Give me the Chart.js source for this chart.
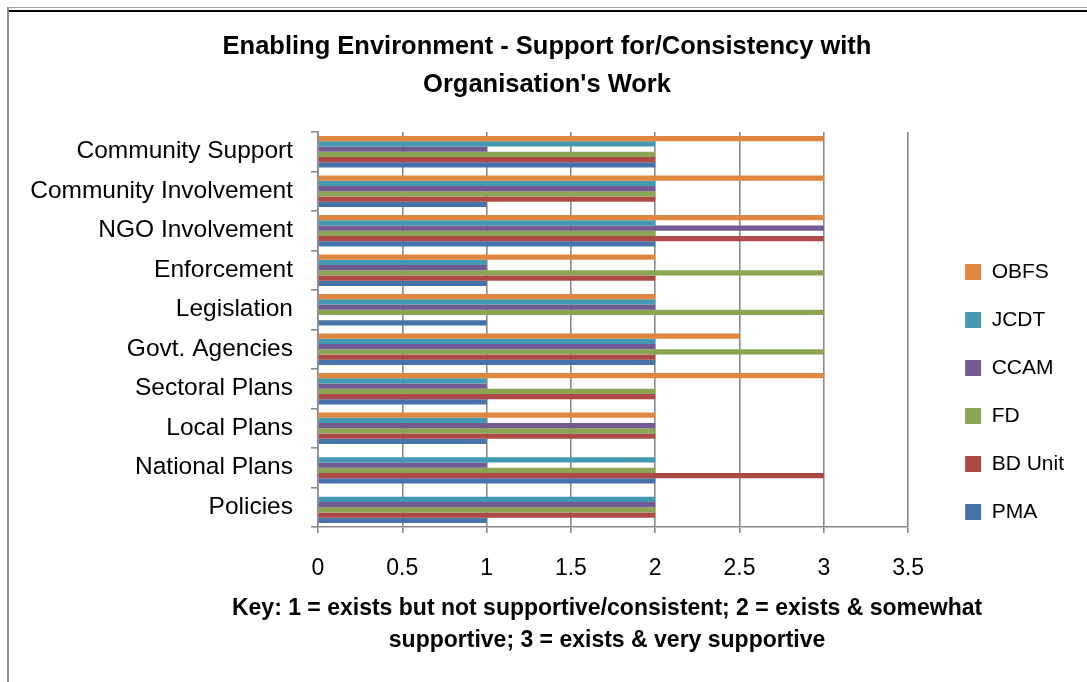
<!DOCTYPE html>
<html>
<head>
<meta charset="utf-8">
<script src="https://cdn.jsdelivr.net/npm/chart.js@4"></script>
<style>
  html, body { margin: 0; padding: 0; background: #fff; }
  #wrap { position: relative; width: 1087px; height: 682px; overflow: hidden; }
  #chart { position: absolute; left: 0; top: 0; }
  .frame { position: absolute; pointer-events: none; }
  #lineGrey { left: 7px; top: 7px; right: 0; height: 1px; background: #a6a6a6; }
  #lineBlack { left: 8px; top: 10px; right: 0; height: 2px; background: #000; }
  #lineLeft { left: 7px; top: 7px; bottom: 0; width: 2px; background: #8c8c8c; }
</style>
</head>
<body>
<div id="wrap">
  <canvas id="chart" width="1087" height="682"></canvas>
  <div class="frame" id="lineGrey"></div>
  <div class="frame" id="lineBlack"></div>
  <div class="frame" id="lineLeft"></div>
</div>
<script>
// categories listed top to bottom
const categories = [
  'Community Support', 'Community Involvement', 'NGO Involvement', 'Enforcement',
  'Legislation', 'Govt. Agencies', 'Sectoral Plans', 'Local Plans',
  'National Plans', 'Policies'
];

// scores per organisation (null = no bar)
const obfs = [3, 3, 3, 2, 2, 2.5, 3, 2, null, null];
const jcdt = [2, 2, 2, 1, 2, 2, 1, 1, 2, 2];
const ccam = [1, 2, 3, 1, 2, 2, 1, 2, 1, 2];
const fd = [2, 2, 2, 3, 3, 3, 2, 2, 2, 2];
const bdUnit = [2, 2, 3, 2, null, 2, 2, 2, 3, 2];
const pma = [2, 1, 2, 1, 1, 2, 1, 1, 2, 1];

const xTicks = [0, 0.5, 1, 1.5, 2, 2.5, 3, 3.5];

const titleLines = ['Enabling Environment - Support for/Consistency with', "Organisation's Work"];
const keyLines = [
  'Key: 1 = exists but not supportive/consistent; 2 = exists & somewhat',
  'supportive; 3 = exists & very supportive'
];

const FONT = '"Liberation Sans", Arial, sans-serif';
const GRID = '#8a8a8a';

const series = [
  { label: 'OBFS', data: obfs, color: '#df8741' },
  { label: 'JCDT', data: jcdt, color: '#4399b1' },
  { label: 'CCAM', data: ccam, color: '#745a92' },
  { label: 'FD', data: fd, color: '#8ba552' },
  { label: 'BD Unit', data: bdUnit, color: '#ad4a47' },
  { label: 'PMA', data: pma, color: '#4673a9' }
];

// the key is wider than the plot, so the axis title can't hold it;
// draw it centred under the plot instead
const keyText = {
  id: 'keyText',
  afterDraw(chart) {
    const { ctx, chartArea } = chart;
    const cx = (chartArea.left + chartArea.right) / 2 - 6;
    ctx.save();
    ctx.fillStyle = '#000';
    ctx.font = 'bold 23px ' + FONT;
    ctx.textAlign = 'center';
    ctx.textBaseline = 'middle';
    keyLines.forEach((line, i) => {
      ctx.fillText(line, cx, chartArea.bottom + 82 + i * 32);
    });
    ctx.restore();
  }
};

new Chart(document.getElementById('chart').getContext('2d'), {
  type: 'bar',
  data: {
    labels: categories,
    datasets: series.map(s => ({
      label: s.label,
      data: s.data,
      backgroundColor: s.color,
      borderWidth: 0,
      categoryPercentage: 0.8,
      barPercentage: 1
    }))
  },
  plugins: [keyText],
  options: {
    indexAxis: 'y',
    responsive: false,
    animation: false,
    layout: { padding: { left: 20, right: 13, top: 0, bottom: 0 } },
    plugins: {
      title: {
        display: true,
        text: titleLines,
        color: '#000',
        font: { family: FONT, size: 25.5, weight: 'bold', lineHeight: 1.49 },
        padding: { top: 28, bottom: 28 }
      },
      legend: {
        position: 'right',
        // blank title pushes the item column down a little
        title: { display: true, text: ' ', font: { size: 1 }, padding: { top: 101, bottom: 0 } },
        labels: {
          color: '#000',
          font: { family: FONT, size: 21 },
          boxWidth: 16,
          boxHeight: 16,
          padding: 27
        }
      },
      tooltip: { enabled: false }
    },
    scales: {
      x: {
        min: 0,
        max: 3.5,
        afterBuildTicks: axis => { axis.ticks = xTicks.map(v => ({ value: v })); },
        afterFit: axis => { axis.height = 155; },
        grid: { color: GRID, lineWidth: 1.6, tickLength: 6 },
        border: { color: GRID, width: 1.6 },
        ticks: {
          color: '#000',
          font: { family: FONT, size: 23 },
          padding: 22,
          callback: v => String(v)
        }
      },
      y: {
        afterFit: axis => { axis.width = 298; },
        grid: { drawOnChartArea: false, color: GRID, lineWidth: 1.6, tickLength: 7 },
        border: { color: GRID, width: 1.6 },
        ticks: {
          color: '#000',
          font: { family: FONT, size: 24.5 },
          padding: 18
        }
      },
      // empty spacer between plot and legend
      gap: {
        type: 'linear',
        position: 'right',
        display: true,
        afterFit: axis => { axis.width = 30; },
        grid: { display: false },
        border: { display: false },
        ticks: { display: false }
      }
    }
  }
});
</script>
</body>
</html>
